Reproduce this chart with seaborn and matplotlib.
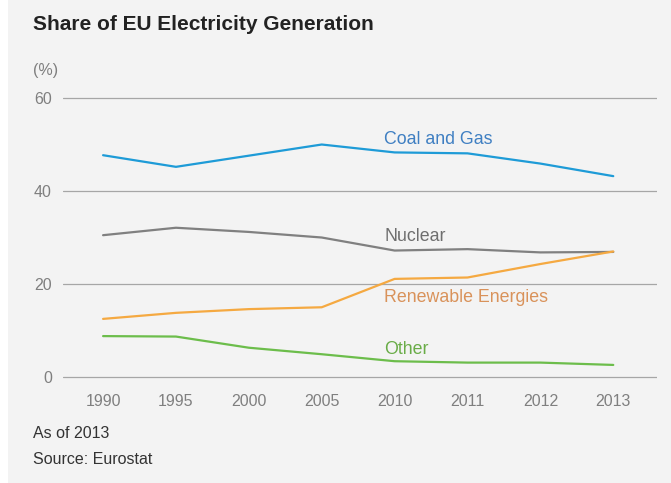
import matplotlib
matplotlib.use("Agg")
import matplotlib.pyplot as plt
import seaborn as sns
import pandas as pd
from matplotlib.patches import Rectangle

years = ["1990", "1995", "2000", "2005", "2010", "2011", "2012", "2013"]
coal_gas = [47.7, 45.2, 47.6, 50.0, 48.3, 48.1, 45.9, 43.2]
nuclear = [30.5, 32.1, 31.2, 30.0, 27.2, 27.5, 26.8, 26.9]
renewable = [12.5, 13.8, 14.6, 15.0, 21.1, 21.4, 24.3, 27.0]
other = [8.8, 8.7, 6.3, 4.9, 3.4, 3.1, 3.1, 2.6]
series_names = ["Coal and Gas", "Nuclear", "Renewable Energies", "Other"]
yticks = [0, 20, 40, 60]

series_values = [coal_gas, nuclear, renewable, other]
df = pd.DataFrame(
    [(y, v, n) for n, vals in zip(series_names, series_values) for y, v in zip(years, vals)],
    columns=["Year", "Share", "Source"],
)

line_colors = {"Coal and Gas": "#1e9bd7", "Nuclear": "#808080",
               "Renewable Energies": "#f5a941", "Other": "#6cbd4b"}
text_colors = {"Coal and Gas": "#3f7fc2", "Nuclear": "#6e6e6e",
               "Renewable Energies": "#d9925a", "Other": "#69ac47"}
label_pos = {"Coal and Gas": 51.0, "Nuclear": 30.2,
             "Renewable Energies": 17.0, "Other": 6.0}

sns.set_theme(style="white")
fam = ["Liberation Sans", "DejaVu Sans"]
plt.rcParams["font.family"] = fam

bg = "#f3f3f3"
fig = plt.figure(figsize=(6.71, 4.83), dpi=100, facecolor=bg)
fig.patches.append(Rectangle((0, 0), 8 / 671, 1, transform=fig.transFigure,
                             facecolor="white", edgecolor="none", zorder=0))

ax = fig.add_axes([63 / 671, 0.2098, (657 - 63) / 671, 0.5969])
ax.set_facecolor(bg)

sns.lineplot(data=df, x="Year", y="Share", hue="Source", palette=line_colors,
             linewidth=1.6, ax=ax, legend=False, sort=False, zorder=3)

ax.set_xlim(-0.55, 7.6)
ax.set_ylim(-1, 61)
ax.set_yticks(yticks)
ax.yaxis.grid(True, color="#a6a6a6", linewidth=0.9)
ax.xaxis.grid(False)
ax.set_axisbelow(True)
for s in ax.spines.values():
    s.set_visible(False)
ax.tick_params(axis="both", length=0, labelcolor="#7f7f7f", labelsize=11.5)
ax.tick_params(axis="y", pad=8)
ax.tick_params(axis="x", pad=9)
ax.set_xlabel("")
ax.set_ylabel("")

for n in series_names:
    ax.text(3.86, label_pos[n], n, color=text_colors[n], fontsize=12.8,
            ha="left", va="center")

fig.text(33 / 671, 1 - 25 / 483, "Share of EU Electricity Generation",
         fontsize=15, fontweight="bold", color="#222222", ha="left", va="center")
fig.text(33 / 671, 1 - 71 / 483, "(%)", fontsize=11.5, color="#7f7f7f",
         ha="left", va="center")
fig.text(33 / 671, 1 - 434 / 483, "As of 2013", fontsize=11.5, color="#333333",
         ha="left", va="center")
fig.text(33 / 671, 1 - 460 / 483, "Source: Eurostat", fontsize=11.5, color="#333333",
         ha="left", va="center")

fig.savefig("out.png", dpi=100, facecolor=bg)
